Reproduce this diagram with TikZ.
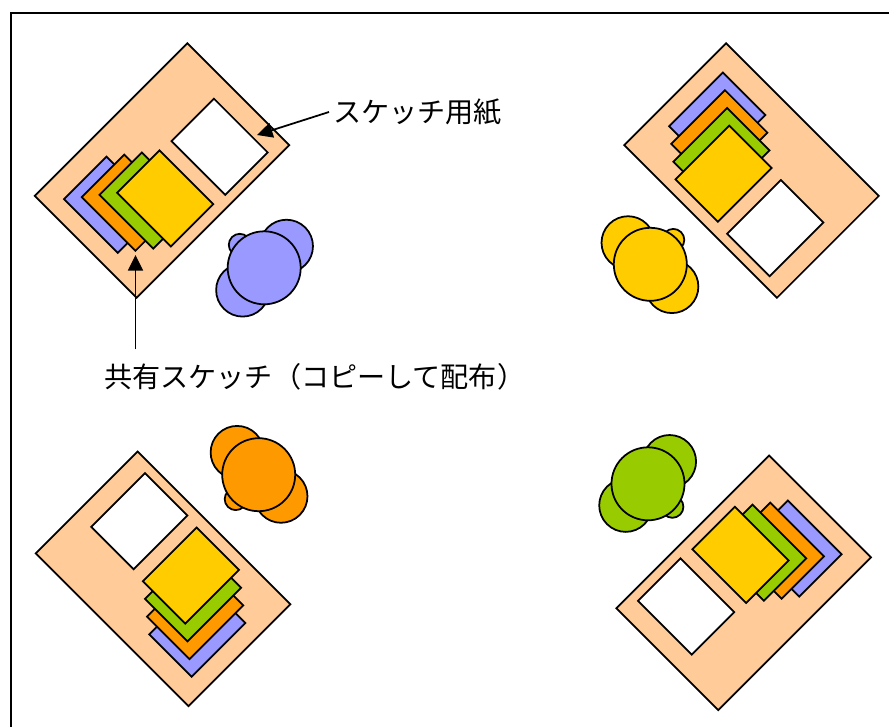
\documentclass[tikz,border=0pt]{standalone}
\usepackage{fontspec}
\newfontfamily\jpfont{Noto Sans CJK JP}
\usetikzlibrary{arrows.meta}

\definecolor{deskpeach}{HTML}{FFCC99}
\definecolor{sheetblue}{HTML}{9999FF}
\definecolor{sheetorange}{HTML}{FF9900}
\definecolor{sheetgreen}{HTML}{99CC00}
\definecolor{sheetyellow}{HTML}{FFCC00}

\tikzset{
  outline/.style={draw=black, line width=1pt},
  pointer/.style={-{Triangle[length=3.1mm,width=3mm]}, line width=1pt},
  note/.style={font=\jpfont\fontsize{16}{19}\selectfont, inner sep=0pt, anchor=west},
  % one desk: the sheet of paper, a blank page and the stack of copies
  pics/desk/.style={code={
    \draw[outline, fill=deskpeach] (-108,-72) rectangle (108,72);
    \draw[outline, fill=white] (27.5,-14) rectangle (87.5,62);
    \foreach \k/\col in {3/sheetblue,2/sheetorange,1/sheetgreen,0/sheetyellow}
      \draw[outline, fill=\col] (-47.5-14*\k,-16-11*\k) rectangle ++(60,76);
  }},
  % somebody seen from above: shoulders, hand, head
  pics/member/.style={code={
    \draw[outline, fill=#1] (31,0.5) circle[radius=26.5] (-31,0.5) circle[radius=26.5];
    \draw[outline, fill=#1] (-1,-33.5) circle[radius=11];
    \draw[outline, fill=#1] (0,0) circle[radius=36.5];
  }}
}

\begin{document}
\begin{tikzpicture}[x=0.02cm, y=-0.02cm]
  \useasboundingbox (0,0) rectangle (889,727);
  \draw[line width=1.2pt] (11,727) |- (889,13);

  % four desks, each turned a quarter further
  \pic[rotate=45]  at (162,170.5)   {desk};
  \pic[rotate=-45] at (751.5,170.5) {desk};
  \pic[rotate=135] at (163,578.8)   {desk};
  \pic[rotate=225] at (743.7,582.8) {desk};

  % the people at them
  \pic[rotate=45]  at (264.2,267.8) {member=sheetblue};
  \pic[rotate=-45] at (650.3,264.3) {member=sheetyellow};
  \pic[rotate=135] at (258.7,474.7) {member=sheetorange};
  \pic[rotate=225] at (648,483.8)   {member=sheetgreen};

  % labels
  \node[note] (paper) at (333,112) {スケッチ用紙};
  \node[note] (shared) at (104,377) {共有スケッチ（コピーして配布）};
  \coordinate (paperTip) at (257,135);
  \coordinate (sharedTip) at (135.5,255);
  \draw[pointer] (paper.west) ++(-4,0) -- (paperTip);
  \draw[pointer] (sharedTip |- shared.north) ++(0,-14) -- (sharedTip);
\end{tikzpicture}
\end{document}
